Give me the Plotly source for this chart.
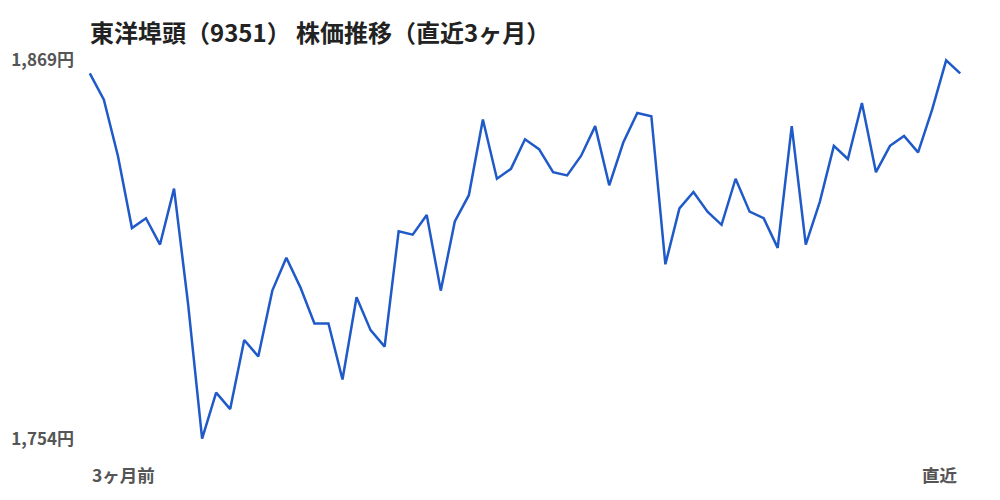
import plotly.graph_objects as go

# 東洋埠頭 終値（直近3ヶ月、営業日ごと）
prices = [
    1865, 1857, 1840, 1818, 1821, 1813, 1830, 1795, 1754, 1768,
    1763, 1784, 1779, 1799, 1809, 1800, 1789, 1789, 1772, 1797,
    1787, 1782, 1817, 1816, 1822, 1799, 1820, 1828, 1851, 1833,
    1836, 1845, 1842, 1835, 1834, 1840, 1849, 1831, 1844, 1853,
    1852, 1807, 1824, 1829, 1823, 1819, 1833, 1823, 1821, 1812,
    1849, 1813, 1826, 1843, 1839, 1856, 1835, 1843, 1846, 1841,
    1854, 1869, 1865,
]
days = list(range(len(prices)))
title_text = "東洋埠頭（9351） 株価推移（直近3ヶ月）"
start_label = "3ヶ月前"
end_label = "直近"

hi = max(prices)
lo = min(prices)

font_family = "Noto Sans CJK JP"

# the page body adds an 8px margin, so the figure is sized to fit the window
fig_w, fig_h = 992, 492

fig = go.Figure()
fig.add_trace(go.Scatter(
    x=days, y=prices, mode="lines",
    line=dict(color="#1f5ac8", width=2.5),
    hoverinfo="skip",
))

fig.update_layout(
    width=fig_w, height=fig_h,
    margin=dict(l=79, r=37, t=49, b=58),
    paper_bgcolor="white", plot_bgcolor="white",
    showlegend=False,
    font=dict(family=font_family, color="#555555"),
    title=dict(
        text=title_text,
        x=82 / fig_w, xref="container", xanchor="left",
        y=1 - 25.5 / fig_h, yref="container", yanchor="middle",
        font=dict(family=font_family, size=24, color="#222222", weight=700),
    ),
    xaxis=dict(
        range=[-0.2, len(prices) - 1 + 0.2],
        showgrid=False, zeroline=False, showline=False,
        showticklabels=False, ticks="", automargin=False,
    ),
    yaxis=dict(
        range=[lo - 1, hi + 1],
        showgrid=False, zeroline=False, showline=False,
        tickvals=[hi, lo],
        ticktext=[f"{hi:,}円", f"{lo:,}円"],
        ticks="", ticklabelstandoff=12, automargin=False,
        tickfont=dict(family=font_family, size=17, color="#555555", weight=600),
    ),
)

fig.add_annotation(
    x=days[0], y=0, xref="x", yref="paper", yshift=-32,
    text=start_label, showarrow=False, xanchor="left", yanchor="middle",
    font=dict(family=font_family, size=17.5, color="#555555", weight=600),
)
fig.add_annotation(
    x=days[-1], y=0, xref="x", yref="paper", yshift=-32,
    text=end_label, showarrow=False, xanchor="right", yanchor="middle",
    font=dict(family=font_family, size=17.5, color="#555555", weight=600),
)

fig.write_html("out.html")
